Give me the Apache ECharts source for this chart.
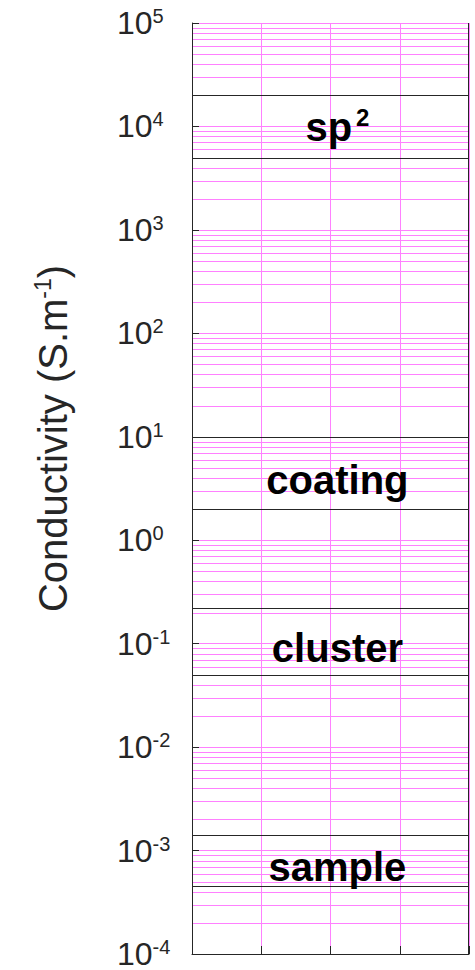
<!DOCTYPE html>
<html>
<head>
<meta charset="utf-8">
<script src="https://cdn.jsdelivr.net/npm/echarts@6/dist/echarts.min.js"></script>
<style>
  html, body { margin: 0; padding: 0; background: #ffffff; }
  #chart { width: 475px; height: 970px; }
</style>
</head>
<body>
<div id="chart"></div>
<script>
// Conductivity ranges (S/m) of each material class
const bandNames = ['sp', 'coating', 'cluster', 'sample'];
const bandSup   = ['2', '', '', ''];
const bandLow   = [5e3, 2, 0.05, 4.5e-4];
const bandHigh  = [2e4, 10, 0.22, 1.4e-3];

// Decade exponents labelled on the log axis
const tickExponents = [-4, -3, -2, -1, 0, 1, 2, 3, 4, 5];
// Mantissas of the minor grid lines inside each decade
const minorMantissas = [2, 3, 4, 5, 6, 7, 8, 9];

const FONT = '"Liberation Sans", Arial, Helvetica, sans-serif';
const INK = '#262626';
const GRID_PINK = '#ff80ff';

// minor grid values: m * 10^e for every decade below the top
const minorValues = [];
for (let i = 0; i < tickExponents.length - 1; i++) {
  for (const m of minorMantissas) {
    minorValues.push([0, m * Math.pow(10, tickExponents[i])]);
  }
}

const bandData = bandLow.map((lo, i) => [0, lo, bandHigh[i], i]);

const chart = echarts.init(document.getElementById('chart'), null, { renderer: 'svg' });

chart.setOption({
  animation: false,
  backgroundColor: '#ffffff',
  grid: { left: 192, right: 6, top: 23, bottom: 14, containLabel: false },
  xAxis: {
    type: 'value', min: 0, max: 4, interval: 1,
    axisLine: { show: true, lineStyle: { color: INK, width: 1 } },
    axisTick: { show: true, inside: true, length: 8, lineStyle: { color: INK } },
    axisLabel: { show: false },
    splitLine: { show: true, lineStyle: { color: GRID_PINK, width: 1 } }
  },
  yAxis: {
    type: 'log', logBase: 10, min: 1e-4, max: 1e5, splitNumber: 9,
    position: 'left',
    name: '{t|Conductivity (S.m}{s|-1}{t|)}',
    nameLocation: 'middle',
    nameGap: 117,
    nameTextStyle: {
      padding: [0, 0, 0, 100],
      rich: {
        t: { fontFamily: FONT, fontSize: 40, color: INK, lineHeight: 44 },
        s: { fontFamily: FONT, fontSize: 23, color: INK, verticalAlign: 'top', lineHeight: 23 }
      }
    },
    axisLine: { show: true, lineStyle: { color: INK, width: 1 } },
    axisTick: { show: true, inside: true, length: 7, lineStyle: { color: INK } },
    axisLabel: {
      align: 'left', margin: 75,
      formatter: function (v) {
        const e = Math.round(Math.log10(v));
        const idx = tickExponents.indexOf(e);
        return '{b|10}{s|' + tickExponents[idx] + '}';
      },
      rich: {
        b: { fontFamily: FONT, fontSize: 32, color: INK, lineHeight: 34 },
        s: { fontFamily: FONT, fontSize: 20, color: INK, verticalAlign: 'top', lineHeight: 20 }
      }
    },
    splitLine: { show: true, lineStyle: { color: GRID_PINK, width: 1 } }
  },
  series: [{
    // minor grid lines of the log axis
    type: 'custom', name: 'minor grid', z: 1, silent: true,
    data: minorValues,
    renderItem: function (params, api) {
      const cs = params.coordSys;
      const y = Math.round(api.coord([0, api.value(1)])[1]) + 0.5;
      return {
        type: 'line',
        shape: { x1: cs.x + 1, y1: y, x2: cs.x + cs.width - 1, y2: y },
        style: { stroke: GRID_PINK, lineWidth: 1 }
      };
    }
  }, {
    // conductivity ranges, bounded by two rules and named in the middle
    type: 'custom', name: 'ranges', z: 3, silent: true,
    data: bandData,
    renderItem: function (params, api) {
      const cs = params.coordSys;
      const i = api.value(3);
      const yLo = Math.round(api.coord([0, api.value(1)])[1]) + 0.5;
      const yHi = Math.round(api.coord([0, api.value(2)])[1]) + 0.5;
      const x0 = cs.x, x1 = cs.x + cs.width;
      const cx = api.coord([2.1, api.value(1)])[0];
      const cy = (yLo + yHi) / 2 + (bandSup[i] ? 0 : 6);
      let text = '{m|' + bandNames[i] + '}';
      if (bandSup[i]) text += '{s|' + bandSup[i] + '}';
      const children = [
        { type: 'line', shape: { x1: x0, y1: yLo, x2: x1, y2: yLo }, style: { stroke: INK, lineWidth: 1 } },
        { type: 'line', shape: { x1: x0, y1: yHi, x2: x1, y2: yHi }, style: { stroke: INK, lineWidth: 1 } },
        {
          type: 'text', x: cx, y: cy,
          style: {
            text: text, align: 'center', verticalAlign: 'middle',
            rich: {
              m: { fontFamily: FONT, fontWeight: 'bold', fontSize: 40, fill: '#000', lineHeight: 44 },
              s: { fontFamily: FONT, fontWeight: 'bold', fontSize: 24, fill: '#000', verticalAlign: 'top', lineHeight: 24, padding: [0, 0, 0, 4] }
            }
          }
        }
      ];
      if (i === 0) {
        // right edge of the plot frame
        const xr = Math.round(x1) - 0.5;
        children.push({ type: 'line', shape: { x1: xr, y1: cs.y, x2: xr, y2: cs.y + cs.height }, style: { stroke: INK, lineWidth: 1 } });
      }
      return { type: 'group', children: children };
    }
  }]
});
</script>
</body>
</html>
